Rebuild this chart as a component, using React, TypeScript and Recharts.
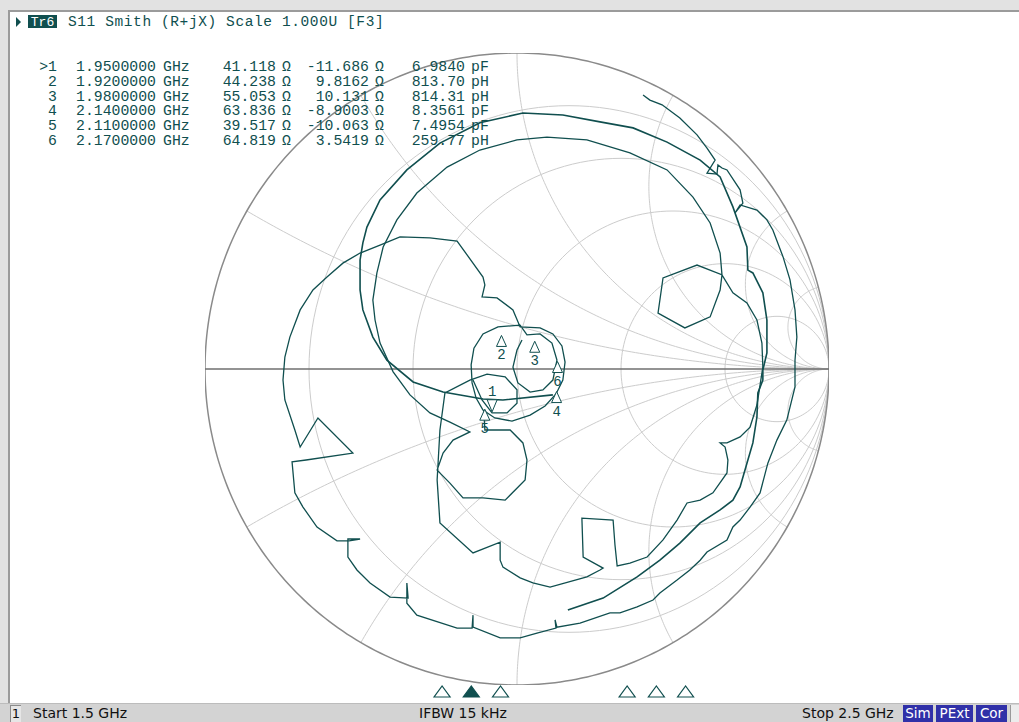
import React from "react";
import {
  ComposedChart,
  Line,
  XAxis,
  YAxis,
  ReferenceLine,
  ReferenceDot,
} from "recharts";

const TEAL = "#104f4f";
const MONO = "'Liberation Mono', 'DejaVu Sans Mono', monospace";
const SANS = "'DejaVu Sans', sans-serif";

// marker table
const markerLabels = [">1", "2", "3", "4", "5", "6"];
const markerFreqGHz = [1.95, 1.92, 1.98, 2.14, 2.11, 2.17];
const markerR = [41.118, 44.238, 55.053, 63.836, 39.517, 64.819];
const markerX = [-11.686, 9.8162, 10.131, -8.9003, -10.063, 3.5419];
const markerLC = [6.984, 813.7, 814.31, 8.3561, 7.4954, 259.77];
const markerLCUnit = ["pF", "pH", "pH", "pF", "pF", "pH"];

const startGHz = 1.5;
const stopGHz = 2.5;
const z0 = 50;

// smith grid values
const resistanceCircles = [0.2, 0.5, 1, 2, 5];
const reactanceArcs = [0.268, 0.577, 1, 1.732, 3.732, 7.596];

// S11 trace, reflection coefficient [re, im]
const traceA = [
  [0.404, 0.867], [0.426, 0.851], [0.465, 0.836], [0.522, 0.794], [0.577, 0.741],
  [0.609, 0.699], [0.635, 0.661], [0.609, 0.62], [0.641, 0.617], [0.644, 0.646],
  [0.657, 0.636], [0.673, 0.63], [0.715, 0.567], [0.724, 0.525], [0.699, 0.494],
  [0.715, 0.519], [0.769, 0.503], [0.801, 0.472], [0.82, 0.44], [0.853, 0.354],
  [0.875, 0.282], [0.891, 0.187], [0.897, 0.101], [0.891, 0.028], [0.891, -0.057],
  [0.865, -0.161], [0.833, -0.225], [0.804, -0.298], [0.779, -0.392], [0.747, -0.437],
  [0.715, -0.478], [0.692, -0.5], [0.673, -0.541], [0.609, -0.579], [0.587, -0.605],
  [0.554, -0.636], [0.513, -0.668], [0.458, -0.709], [0.436, -0.731], [0.385, -0.753],
  [0.33, -0.772], [0.298, -0.772], [0.202, -0.804], [0.128, -0.817], [0.122, -0.794],
  [0.125, -0.82], [0.064, -0.836], [0.01, -0.851], [-0.054, -0.851], [-0.141, -0.817],
  [-0.141, -0.779], [-0.144, -0.82], [-0.192, -0.82], [-0.321, -0.779], [-0.353, -0.741],
  [-0.353, -0.677], [-0.349, -0.725], [-0.407, -0.722], [-0.471, -0.677], [-0.513, -0.636],
  [-0.542, -0.595], [-0.542, -0.538], [-0.503, -0.538], [-0.538, -0.544], [-0.577, -0.544],
  [-0.641, -0.5], [-0.686, -0.437], [-0.712, -0.392], [-0.721, -0.294], [-0.676, -0.288],
  [-0.526, -0.266], [-0.638, -0.155], [-0.695, -0.247], [-0.712, -0.193], [-0.744, -0.098],
  [-0.75, -0.035], [-0.744, 0.038], [-0.728, 0.101], [-0.695, 0.187], [-0.654, 0.25],
  [-0.609, 0.291], [-0.558, 0.335], [-0.503, 0.367], [-0.439, 0.392], [-0.375, 0.418],
  [-0.279, 0.415], [-0.192, 0.405], [-0.109, 0.291], [-0.103, 0.266], [-0.112, 0.228],
  [-0.064, 0.225], [-0.013, 0.187], [0.01, 0.133], [0.074, 0.13], [0.115, 0.111],
  [0.144, 0.073], [0.154, 0.022], [0.147, -0.035], [0.125, -0.079], [0.09, -0.117],
  [0.042, -0.146], [-0.016, -0.165], [-0.071, -0.155], [-0.109, -0.13], [-0.131, -0.092],
  [-0.144, -0.044], [-0.147, 0.013], [-0.138, 0.066], [-0.109, 0.111], [-0.061, 0.133],
  [0.01, 0.139], [0.032, 0.108], [0.074, 0.111], [0.112, 0.082], [0.128, 0.028],
  [0.115, -0.035], [0.083, -0.066], [0.042, -0.073], [0.003, -0.044], [-0.013, 0.006],
  [0.0, 0.06], [0.016, 0.092],
];

const traceB = [
  [0.115, -0.082], [-0.045, -0.098], [-0.109, -0.095], [-0.237, -0.073], [-0.333, -0.041],
  [-0.417, 0.028], [-0.462, 0.101], [-0.494, 0.187], [-0.503, 0.25], [-0.503, 0.345],
  [-0.494, 0.399], [-0.481, 0.449], [-0.439, 0.535], [-0.353, 0.63], [-0.247, 0.715],
  [-0.119, 0.779], [0.019, 0.81], [0.147, 0.804], [0.266, 0.782], [0.372, 0.763],
  [0.481, 0.718], [0.587, 0.661], [0.651, 0.608], [0.692, 0.513], [0.737, 0.386],
  [0.74, 0.313], [0.756, 0.304], [0.788, 0.241], [0.801, 0.155], [0.801, 0.051],
  [0.788, -0.003], [0.788, -0.035], [0.772, -0.076], [0.769, -0.152], [0.756, -0.234],
  [0.737, -0.298], [0.715, -0.373], [0.692, -0.415], [0.651, -0.446], [0.587, -0.487],
  [0.522, -0.551], [0.458, -0.605], [0.385, -0.658], [0.276, -0.725], [0.163, -0.763],
];

const traceC = [
  [-0.106, -0.13], [-0.103, -0.193], [-0.022, -0.193], [0.019, -0.234], [0.032, -0.288],
  [0.026, -0.351], [-0.038, -0.415], [-0.109, -0.408], [-0.173, -0.408], [-0.215, -0.361],
  [-0.256, -0.32], [-0.237, -0.266], [-0.205, -0.225], [-0.151, -0.199], [-0.215, -0.168],
  [-0.279, -0.139], [-0.343, -0.082], [-0.397, -0.009], [-0.439, 0.082], [-0.455, 0.155],
  [-0.462, 0.218], [-0.449, 0.304], [-0.429, 0.386], [-0.385, 0.472], [-0.321, 0.557],
  [-0.224, 0.639], [-0.119, 0.693], [0.0, 0.725], [0.096, 0.734], [0.224, 0.725],
  [0.362, 0.684], [0.481, 0.63], [0.564, 0.544], [0.619, 0.462], [0.651, 0.367],
  [0.657, 0.298], [0.577, 0.329], [0.468, 0.288], [0.452, 0.177], [0.538, 0.13],
  [0.619, 0.165], [0.651, 0.25], [0.657, 0.298], [0.692, 0.241], [0.737, 0.209],
  [0.769, 0.155], [0.785, 0.082], [0.788, 0.006], [0.779, -0.051], [0.769, -0.114],
  [0.747, -0.184], [0.715, -0.215], [0.673, -0.234], [0.651, -0.234], [0.667, -0.247],
  [0.676, -0.288], [0.673, -0.329], [0.628, -0.392], [0.587, -0.415], [0.545, -0.424],
  [0.513, -0.478], [0.468, -0.541], [0.417, -0.595], [0.362, -0.614], [0.321, -0.623],
  [0.314, -0.557], [0.308, -0.478], [0.208, -0.472], [0.212, -0.595], [0.276, -0.63],
  [0.266, -0.636], [0.224, -0.658], [0.106, -0.69], [0.051, -0.677], [0.01, -0.661],
  [-0.045, -0.627], [-0.054, -0.605], [-0.054, -0.548], [-0.141, -0.582], [-0.247, -0.487],
  [-0.256, -0.351], [-0.247, -0.193], [-0.231, -0.076], [-0.151, -0.035], [-0.096, -0.016],
  [-0.038, -0.025], [0.0, -0.066], [0.0, -0.108], [-0.032, -0.139], [-0.08, -0.139],
  [-0.112, -0.098], [-0.141, -0.035],
];

type Pt = { u: number; v: number };
const toPts = (a: number[][]): Pt[] => a.map(([u, v]) => ({ u, v }));

const arcPts = (cu: number, cv: number, rad: number, t0: number, t1: number, n = 160): Pt[] => {
  const out: Pt[] = [];
  for (let i = 0; i <= n; i++) {
    const t = t0 + ((t1 - t0) * i) / n;
    out.push({ u: cu + rad * Math.cos(t), v: cv + rad * Math.sin(t) });
  }
  return out;
};

const rCircle = (r: number) => arcPts(r / (1 + r), 0, 1 / (1 + r), 0, 2 * Math.PI);

const xArc = (x: number, sign: number) => {
  const ix = (x * x - 1) / (x * x + 1);
  const iy = (2 * x) / (x * x + 1);
  let tEnd = Math.atan2(iy - 1 / x, ix - 1);
  while (tEnd > -Math.PI / 2) tEnd -= 2 * Math.PI;
  return arcPts(1, 1 / x, 1 / x, -Math.PI / 2, tEnd).map((p) => ({ u: p.u, v: sign * p.v }));
};

const gamma = (R: number, X: number) => {
  const a = R / z0, b = X / z0;
  const nr = a - 1, ni = b, dr = a + 1, di = b;
  const d = dr * dr + di * di;
  return { u: (nr * dr + ni * di) / d, v: (ni * dr - nr * di) / d };
};

const CH_LEFT = 205;
const CH_TOP = 53;
const CH_W = 624;
const CH_H = 632;

const MarkerShape = ({ cx, cy, label, above }: any) => {
  if (above) {
    return (
      <g>
        <polygon points={`${cx - 5},${cy - 13} ${cx + 5},${cy - 13} ${cx},${cy - 1}`} fill="#fff" stroke={TEAL} strokeWidth={1} />
        <text x={cx} y={cy - 17} textAnchor="middle" fontFamily={MONO} fontSize={14} fill={TEAL}>{label}</text>
      </g>
    );
  }
  return (
    <g>
      <polygon points={`${cx},${cy + 1} ${cx - 5},${cy + 12} ${cx + 5},${cy + 12}`} fill="#fff" stroke={TEAL} strokeWidth={1} />
      <text x={cx} y={cy + 25} textAnchor="middle" fontFamily={MONO} fontSize={14} fill={TEAL}>{label}</text>
    </g>
  );
};

const SmithChart = () => {
  const grid: Pt[][] = [
    ...resistanceCircles.map(rCircle),
    ...reactanceArcs.map((x) => xArc(x, 1)),
    ...reactanceArcs.map((x) => xArc(x, -1)),
  ];
  const boundary = arcPts(0, 0, 1, 0, 2 * Math.PI, 360);
  const markers = markerR.map((r, i) => ({ ...gamma(r, markerX[i]), label: markerLabels[i].replace(">", "") }));
  return (
    <ComposedChart width={CH_W} height={CH_H} margin={{ top: 0, right: 0, bottom: 0, left: 0 }}>
      <XAxis type="number" dataKey="u" domain={[-1, 1]} allowDataOverflow hide />
      <YAxis type="number" domain={[-1, 1]} allowDataOverflow hide />
      {grid.map((g, i) => (
        <Line key={"g" + i} data={g} dataKey="v" type="linear" stroke="#cccccc" strokeWidth={1} dot={false} activeDot={false} isAnimationActive={false} legendType="none" />
      ))}
      <Line data={boundary} dataKey="v" type="linear" stroke="#8a8a8a" strokeWidth={1.5} dot={false} activeDot={false} isAnimationActive={false} legendType="none" />
      <ReferenceLine y={0} stroke="#6f6f6f" strokeWidth={1.5} />
      <Line data={toPts(traceA)} dataKey="v" type="linear" stroke={TEAL} strokeWidth={1.3} dot={false} activeDot={false} isAnimationActive={false} legendType="none" />
      <Line data={toPts(traceB)} dataKey="v" type="linear" stroke={TEAL} strokeWidth={1.6} dot={false} activeDot={false} isAnimationActive={false} legendType="none" />
      <Line data={toPts(traceC)} dataKey="v" type="linear" stroke={TEAL} strokeWidth={1.3} dot={false} activeDot={false} isAnimationActive={false} legendType="none" />
      {markers.map((m, i) => (
        <ReferenceDot
          key={"m" + i}
          x={m.u}
          y={m.v}
          r={3}
          ifOverflow="visible"
          shape={(p: any) => <MarkerShape cx={p.cx} cy={p.cy} label={m.label} above={i === 0} />}
        />
      ))}
    </ComposedChart>
  );
};

const abs = (s: React.CSSProperties): React.CSSProperties => ({ position: "absolute", ...s });

export default function App() {
  const rowTop = (i: number) => 60 + i * 14.8;
  const fmt = (v: number) => v.toPrecision(5);
  const axisX = (f: number) => 33 + ((f - startGHz) / (stopGHz - startGHz)) * 974;
  return (
    <div style={abs({ left: 0, top: 0, width: 1019, height: 722, background: "#e2e2e2", overflow: "hidden" })}>
      <div style={abs({ left: 8, top: 10, width: 1011, height: 693, background: "#fff", borderTop: "2px solid #9b9b9b", borderLeft: "2px solid #9b9b9b" })} />
      <div style={abs({ left: CH_LEFT, top: CH_TOP, width: CH_W, height: CH_H })}>
        <SmithChart />
      </div>

      {/* header */}
      <svg style={abs({ left: 0, top: 0 })} width={70} height={32}>
        <polygon points="16,17 21,22 16,27" fill={TEAL} />
        <rect x={28} y={15} width={29} height={13} fill={TEAL} />
        <text x={42.5} y={26} textAnchor="middle" fontFamily={MONO} fontSize={13} fill="#fff">Tr6</text>
      </svg>
      <div style={abs({ left: 68, top: 14, fontFamily: MONO, fontSize: 14.5, lineHeight: "16px", letterSpacing: 0.6, color: TEAL, whiteSpace: "pre" })}>
        S11 Smith (R+jX) Scale 1.000U [F3]
      </div>

      {/* marker table */}
      {markerLabels.map((lab, i) => {
        const base: React.CSSProperties = { top: rowTop(i), fontFamily: MONO, fontSize: 14.8, lineHeight: "15px", color: TEAL, whiteSpace: "pre" };
        return (
          <React.Fragment key={"row" + i}>
            <div style={abs({ ...base, left: 0, width: 57, textAlign: "right" })}>{lab}</div>
            <div style={abs({ ...base, left: 76 })}>{markerFreqGHz[i].toFixed(7)}</div>
            <div style={abs({ ...base, left: 163 })}>GHz</div>
            <div style={abs({ ...base, left: 0, width: 276, textAlign: "right" })}>{fmt(markerR[i])}</div>
            <div style={abs({ ...base, left: 282 })}>Ω</div>
            <div style={abs({ ...base, left: 0, width: 369, textAlign: "right" })}>{fmt(markerX[i])}</div>
            <div style={abs({ ...base, left: 375 })}>Ω</div>
            <div style={abs({ ...base, left: 0, width: 465, textAlign: "right" })}>{fmt(markerLC[i])}</div>
            <div style={abs({ ...base, left: 471 })}>{markerLCUnit[i]}</div>
          </React.Fragment>
        );
      })}

      {/* marker positions along the sweep */}
      <svg style={abs({ left: 0, top: 680 })} width={1019} height={22}>
        {markerFreqGHz.map((f, i) => {
          const x = axisX(f);
          return (
            <polygon
              key={"t" + i}
              points={`${x - 8},17 ${x + 8},17 ${x},6`}
              fill={i === 0 ? TEAL : "#fff"}
              stroke={TEAL}
              strokeWidth={1.2}
            />
          );
        })}
      </svg>

      {/* status bar */}
      <div style={abs({ left: 0, top: 703, width: 1019, height: 19, background: "#d3d3d3", borderTop: "1px solid #bcbcbc" })} />
      <div style={abs({ left: 10, top: 705, width: 10, height: 16, background: "#e6e6e6", borderTop: "1px solid #8c8c8c", borderLeft: "1px solid #8c8c8c", fontFamily: SANS, fontSize: 13, lineHeight: "16px", textAlign: "center", color: "#111" })}>1</div>
      <div style={abs({ left: 33, top: 705, fontFamily: SANS, fontSize: 14, lineHeight: "17px", color: "#111", whiteSpace: "pre" })}>{`Start ${startGHz} GHz`}</div>
      <div style={abs({ left: 419, top: 705, fontFamily: SANS, fontSize: 14, lineHeight: "17px", color: "#111", whiteSpace: "pre" })}>IFBW 15 kHz</div>
      <div style={abs({ left: 802, top: 705, fontFamily: SANS, fontSize: 14, lineHeight: "17px", color: "#111", whiteSpace: "pre" })}>{`Stop ${stopGHz} GHz`}</div>
      {[
        { t: "Sim", l: 903, w: 30 },
        { t: "PExt", l: 936, w: 37 },
        { t: "Cor", l: 976, w: 31 },
      ].map((b) => (
        <div key={b.t} style={abs({ left: b.l, top: 705, width: b.w, height: 17, background: "#3030a8", color: "#fff", fontFamily: SANS, fontSize: 13.5, lineHeight: "17px", textAlign: "center" })}>{b.t}</div>
      ))}
      <div style={abs({ left: 1010, top: 705, width: 9, height: 17, background: "#ececec", borderLeft: "1px solid #999" })} />
    </div>
  );
}
